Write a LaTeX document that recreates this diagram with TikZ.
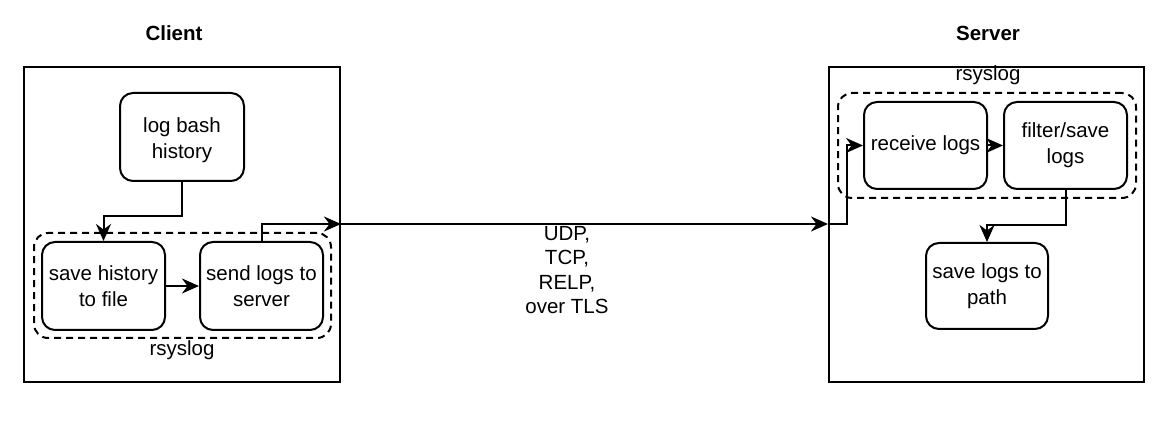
\documentclass[tikz,border=0pt]{standalone}
\usepackage{fontspec}
\setmainfont{Liberation Sans}
\usetikzlibrary{arrows.meta,calc}
\begin{document}
\begin{tikzpicture}[x=1pt,y=-1pt,
  every node/.style={font=\fontsize{20.5}{24.6}\selectfont},
  box/.style={draw, line width=2pt, rounded corners=13pt, fill=white, align=center, inner sep=0pt,
    font=\fontsize{20.5}{25.8}\selectfont},
  outer/.style={draw, line width=2pt, inner sep=0pt},
  group/.style={draw, line width=2pt, dash pattern=on 7pt off 5pt, rounded corners=14pt, inner sep=0pt},
  arr/.style={line width=2pt, -{Stealth[length=17pt,width=15pt,inset=5.5pt]}},
  ttl/.style={font=\fontsize{20.5}{24.6}\selectfont\bfseries},
  lbl/.style={align=center, inner sep=0pt}]
\useasboundingbox (0,0) rectangle (1170,435);
% containers
\node[outer, minimum width=316, minimum height=315] (client) at (182,224.5) {};
\node[outer, minimum width=315, minimum height=315] (server) at (986.5,224.5) {};
\node[group, minimum width=297, minimum height=105] (cgroup) at (182.5,285.5) {};
\node[group, minimum width=298, minimum height=105] (sgroup) at (987,145.5) {};
% titles
\node[ttl] (tclient) at (174,33) {Client};
\node[ttl] (tserver) at (988,33) {Server};
\node[lbl] (lc) at (182,350) {rsyslog};
\node[lbl] (ls) at (988,75) {rsyslog};
% boxes
\node[box, minimum width=124, minimum height=88] (log) at (182,137) {};
\node[lbl, font=\fontsize{20.5}{25.8}\selectfont] (logt) at (182,140) {log bash\\history};
\node[box, minimum width=123, minimum height=88] (save) at (103.5,286) {save history\\to file};
\node[box, minimum width=123, minimum height=88] (send) at (261.5,286) {send logs to\\server};
\node[box, minimum width=123, minimum height=87] (recv) at (925.5,145.5) {receive logs};
\node[box, minimum width=123, minimum height=87] (filt) at (1065.5,145.5) {filter/save\\logs};
\node[box, minimum width=122, minimum height=86] (path) at (987,286) {save logs to\\path};
% protocol label
\node[lbl] (proto) at (567,270) {UDP,\\TCP,\\RELP,\\over TLS};
% junction coordinates
\coordinate (j1) at (182,216);
\coordinate (j2) at (261.5,224);
\coordinate (j3) at (847,224);
\coordinate (j4) at (1065.5,225);
% connectors
\draw[arr] (log.south) -- (j1) -| (save.north);
\draw[arr] (save.east) -- (send.west);
\draw[arr] (send.north) -- (j2) -- (client.east |- j2);
\draw[arr] (client.east |- j2) -- (server.west |- j2);
\draw[arr] (server.west |- j2) -- (j3) |- (recv.west);
\draw[arr] (recv.east) -- (filt.west);
\draw[arr] (filt.south) -- (j4) -| (path.north);
\end{tikzpicture}
\end{document}
